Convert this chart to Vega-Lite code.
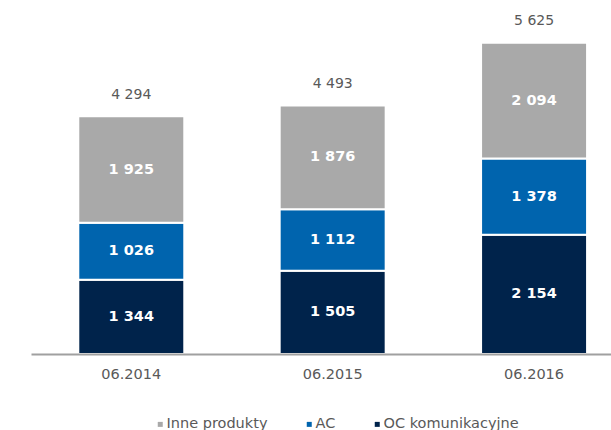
{
  "$schema": "https://vega.github.io/schema/vega-lite/v6.json",
  "width": 580,
  "height": 332,
  "autosize": {"type": "none"},
  "padding": {"left": 31, "top": 22, "right": 0, "bottom": 76},
  "background": "white",
  "datasets": {
    "segmenty": [
      {"okres": "06.2014", "seria": "OC komunikacyjne", "kolejnosc": 1, "wartosc": 1344},
      {"okres": "06.2014", "seria": "AC", "kolejnosc": 2, "wartosc": 1026},
      {"okres": "06.2014", "seria": "Inne produkty", "kolejnosc": 3, "wartosc": 1925},
      {"okres": "06.2015", "seria": "OC komunikacyjne", "kolejnosc": 1, "wartosc": 1505},
      {"okres": "06.2015", "seria": "AC", "kolejnosc": 2, "wartosc": 1112},
      {"okres": "06.2015", "seria": "Inne produkty", "kolejnosc": 3, "wartosc": 1876},
      {"okres": "06.2016", "seria": "OC komunikacyjne", "kolejnosc": 1, "wartosc": 2154},
      {"okres": "06.2016", "seria": "AC", "kolejnosc": 2, "wartosc": 1378},
      {"okres": "06.2016", "seria": "Inne produkty", "kolejnosc": 3, "wartosc": 2094}
    ],
    "sumy": [
      {"okres": "06.2014", "suma": 4294},
      {"okres": "06.2015", "suma": 4493},
      {"okres": "06.2016", "suma": 5625}
    ]
  },
  "encoding": {
    "x": {
      "field": "okres",
      "type": "nominal",
      "title": null,
      "scale": {"paddingInner": 0.4737, "paddingOuter": 0.1768, "align": 0.664},
      "axis": {
        "labelAngle": 0,
        "ticks": false,
        "labelPadding": 13,
        "labelFont": "DejaVu Sans",
        "labelFontSize": 14.5,
        "labelColor": "#595959",
        "domainColor": "#a0a0a0",
        "domainWidth": 2,
        "zindex": 1,
        "grid": false
      }
    }
  },
  "layer": [
    {
      "data": {"name": "segmenty"},
      "mark": {"type": "bar", "stroke": "white", "strokeWidth": 2},
      "encoding": {
        "y": {
          "field": "wartosc",
          "type": "quantitative",
          "stack": "zero",
          "scale": {"domain": [0, 6000], "nice": false, "zero": true},
          "axis": null
        },
        "order": {"field": "kolejnosc", "type": "quantitative", "sort": "ascending"},
        "color": {
          "field": "seria",
          "type": "nominal",
          "scale": {
            "domain": ["Inne produkty", "AC", "OC komunikacyjne"],
            "range": ["#a9a9a9", "#0064ae", "#00234b"]
          },
          "legend": {
            "title": null,
            "orient": "none",
            "direction": "horizontal",
            "legendX": 122,
            "legendY": 395,
            "symbolType": "square",
            "symbolSize": 25,
            "symbolStrokeWidth": 0,
            "labelFont": "DejaVu Sans",
            "labelFontSize": 14.5,
            "labelColor": "#595959",
            "labelOffset": -1,
            "columnPadding": 34,
            "padding": 0
          }
        }
      }
    },
    {
      "data": {"name": "segmenty"},
      "transform": [
        {"stack": "wartosc", "groupby": ["okres"], "sort": [{"field": "kolejnosc", "order": "ascending"}], "as": ["y0", "y1"]},
        {"fold": ["y0", "y1"], "as": ["kraniec", "poz"]}
      ],
      "mark": {"type": "text", "color": "white", "font": "DejaVu Sans", "fontSize": 14.5, "fontWeight": "bold", "baseline": "middle", "align": "center"},
      "encoding": {
        "y": {"aggregate": "mean", "field": "poz", "type": "quantitative", "stack": null},
        "detail": {"field": "seria", "type": "nominal"},
        "text": {"aggregate": "max", "field": "wartosc", "type": "quantitative", "format": ",d"}
      }
    },
    {
      "data": {"name": "sumy"},
      "mark": {"type": "text", "color": "#595959", "font": "DejaVu Sans", "fontSize": 14, "baseline": "middle", "align": "center", "dy": -21.5},
      "encoding": {
        "y": {"field": "suma", "type": "quantitative"},
        "text": {"field": "suma", "type": "quantitative", "format": ",d"}
      }
    }
  ],
  "config": {
    "view": {"stroke": null},
    "locale": {"number": {"decimal": ",", "thousands": " ", "grouping": [3], "currency": ["", " zł"]}}
  }
}
